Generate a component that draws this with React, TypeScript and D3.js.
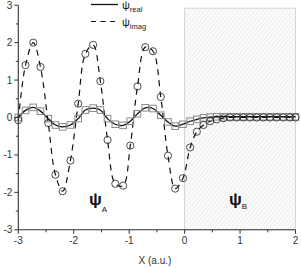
import React from 'react';
import * as d3 from 'd3';

// sample positions (x, a.u.)
const xGrid = [-3.0, -2.87, -2.73, -2.6, -2.46, -2.33, -2.2, -2.06, -1.92, -1.79, -1.65, -1.52, -1.39, -1.25, -1.11, -0.98, -0.85, -0.71, -0.57, -0.43, -0.3, -0.17, -0.03, 0.1, 0.22, 0.34, 0.46, 0.58, 0.7, 0.82, 0.94, 1.06, 1.18, 1.3, 1.42, 1.54, 1.66, 1.78, 1.9, 2.0];
// psi real (squares, solid line)
const psiReal = [0.0, 0.19, 0.27, 0.17, -0.03, -0.2, -0.25, -0.2, -0.03, 0.2, 0.25, 0.2, -0.03, -0.18, -0.21, -0.1, 0.1, 0.26, 0.24, 0.06, -0.12, -0.23, -0.18, -0.1, -0.05, -0.01, 0.01, 0.02, 0.02, 0.02, 0.02, 0.02, 0.02, 0.02, 0.02, 0.02, 0.02, 0.02, 0.02, 0.02];
// psi imag (circles, dashed line)
const psiImag = [-0.07, 1.4, 2.0, 1.35, -0.15, -1.53, -1.97, -1.15, 0.37, 1.7, 1.94, 0.97, -0.6, -1.77, -1.82, -0.75, 0.83, 1.88, 1.77, 0.55, -1.02, -1.9, -1.62, -0.8, -0.38, -0.2, -0.1, -0.05, -0.02, 0.0, 0.0, 0.0, 0.0, 0.0, 0.0, 0.0, 0.0, 0.0, 0.0, 0.0];

const xTicks = [-3, -2, -1, 0, 1, 2];
const xMinor = [-2.5, -1.5, -0.5, 0.5, 1.5];
const yTicks = [-3, -2, -1, 0, 1, 2, 3];
const yMinor = [-2.5, -1.5, -0.5, 0.5, 1.5, 2.5];
const regionB = { x0: 0, x1: 2, y0: -3, y1: 2.92 };

const FONT = "'Liberation Sans', Arial, sans-serif";

export default function App() {
  const W = 301, H = 268;
  const x = d3.scaleLinear().domain([-3, 2]).range([18.3, 295.5]);
  const y = d3.scaleLinear().domain([-3, 3]).range([229.8, 5.2]);

  const realPts: [number, number][] = xGrid.map((v, i) => [v, psiReal[i]]);
  const imagPts: [number, number][] = xGrid.map((v, i) => [v, psiImag[i]]);
  const line = d3.line<[number, number]>()
    .x(d => x(d[0]))
    .y(d => y(d[1]))
    .curve(d3.curveCatmullRom.alpha(0.5));

  const axisColor = '#333';
  const x0 = x(-3), yb = y(-3);

  return (
    <svg width={W} height={H} style={{ position: 'absolute', left: 0, top: 0, background: '#fff' }}>
      <defs>
        <pattern id="hatch" width="3.2" height="3.2" patternUnits="userSpaceOnUse" patternTransform="rotate(40)">
          <rect width="3.2" height="3.2" fill="#fcfcfc" />
          <line x1="0" y1="0" x2="0" y2="3.2" stroke="#d8d8d8" strokeWidth="0.8" />
        </pattern>
      </defs>
      <rect x={x(regionB.x0)} y={y(regionB.y1)} width={x(regionB.x1) - x(regionB.x0)} height={y(regionB.y0) - y(regionB.y1)}
        fill="url(#hatch)" stroke="#cccccc" strokeWidth={0.8} />

      <path d={line(realPts) || ''} fill="none" stroke="#111" strokeWidth={1.3} />
      <path d={line(imagPts) || ''} fill="none" stroke="#111" strokeWidth={1.2} strokeDasharray="6,5" />

      {realPts.map((d, i) => (
        <rect key={'s' + i} x={x(d[0]) - 3.3} y={y(d[1]) - 3.3} width={6.6} height={6.6}
          fill="none" stroke="#8a8a8a" strokeWidth={1} />
      ))}
      {imagPts.map((d, i) => (
        <circle key={'c' + i} cx={x(d[0])} cy={y(d[1])} r={3.6} fill="none" stroke="#222" strokeWidth={0.8} />
      ))}

      {/* axes */}
      <line x1={x0} y1={y(3)} x2={x0} y2={yb} stroke={axisColor} strokeWidth={1.1} />
      <line x1={x0} y1={yb} x2={x(2)} y2={yb} stroke={axisColor} strokeWidth={1.1} />
      {xTicks.map(t => (
        <g key={'xt' + t}>
          <line x1={x(t)} x2={x(t)} y1={yb} y2={yb + 4} stroke={axisColor} strokeWidth={1} />
          <text x={x(t)} y={yb + 14} fontSize={10} fontFamily={FONT} fill="#333" textAnchor="middle">{t}</text>
        </g>
      ))}
      {xMinor.map(t => (
        <line key={'xm' + t} x1={x(t)} x2={x(t)} y1={yb} y2={yb + 2.5} stroke={axisColor} strokeWidth={1} />
      ))}
      {yTicks.map(t => (
        <g key={'yt' + t}>
          <line x1={x0 - 4} x2={x0} y1={y(t)} y2={y(t)} stroke={axisColor} strokeWidth={1} />
          <text x={x0 - 6} y={y(t) + 3.5} fontSize={10} fontFamily={FONT} fill="#333" textAnchor="end">{t}</text>
        </g>
      ))}
      {yMinor.map(t => (
        <line key={'ym' + t} x1={x0 - 2.5} x2={x0} y1={y(t)} y2={y(t)} stroke={axisColor} strokeWidth={1} />
      ))}
      <text x={155} y={264} fontSize={10} fontFamily={FONT} fill="#333" textAnchor="middle">X (a.u.)</text>

      {/* legend */}
      <line x1={91} x2={118} y1={4.5} y2={4.5} stroke="#111" strokeWidth={1.3} />
      <text x={122} y={9} fontSize={11} fontFamily={FONT} fill="#222">ψ<tspan fontSize={7.5} dy={3}>real</tspan></text>
      <line x1={91} x2={118} y1={21.5} y2={21.5} stroke="#111" strokeWidth={1.2} strokeDasharray="5,4.5" />
      <text x={122} y={26} fontSize={11} fontFamily={FONT} fill="#222">ψ<tspan fontSize={7.5} dy={3}>imag</tspan></text>

      {/* region labels */}
      <text x={89} y={205} fontSize={17} fontWeight="bold" fontFamily={FONT} fill="#111">ψ<tspan fontSize={8} fontWeight="normal" dy={7}>A</tspan></text>
      <text x={229} y={205} fontSize={17} fontWeight="bold" fontFamily={FONT} fill="#111">ψ<tspan fontSize={8} fontWeight="normal" dy={4}>B</tspan></text>
    </svg>
  );
}
